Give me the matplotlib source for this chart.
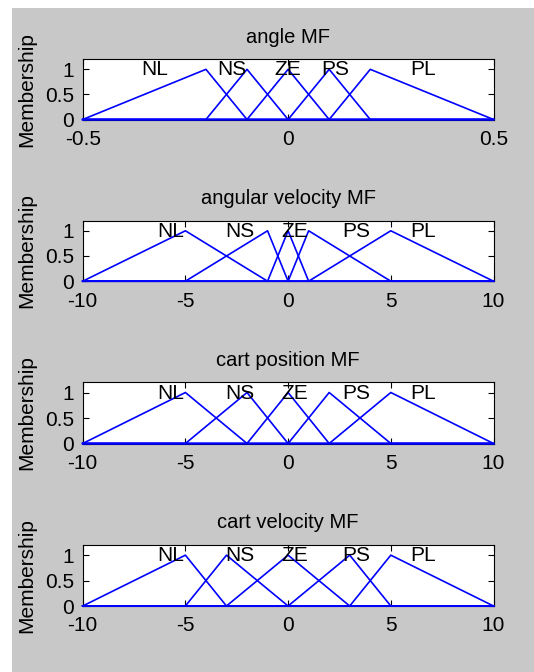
import numpy as np
from matplotlib import pyplot as plt
from matplotlib.patches import Rectangle

plt.rcParams['font.family'] = ['Liberation Sans', 'DejaVu Sans']
plt.rcParams['axes.unicode_minus'] = False

mf_names = ['NL', 'NS', 'ZE', 'PS', 'PL']

# triangular MF params (a, b, c) per variable
angle_range  = (-0.5, 0.5)
angle_mfs    = [(-0.5, -0.2, -0.1), (-0.2, -0.1, 0.0), (-0.1, 0.0, 0.1), (0.0, 0.1, 0.2), (0.1, 0.2, 0.5)]
angle_ticks  = [-0.5, 0, 0.5]
angle_labx   = [-0.325, -0.138, 0.0, 0.115, 0.328]

angvel_range = (-10, 10)
angvel_mfs   = [(-10, -5, -1), (-5, -1, 0), (-1, 0, 1), (0, 1, 5), (1, 5, 10)]
angvel_ticks = [-10, -5, 0, 5, 10]
angvel_labx  = [-5.7, -2.35, 0.3, 3.3, 6.55]

cartpos_range = (-10, 10)
cartpos_mfs   = [(-10, -5, -2), (-5, -2, 0), (-2, 0, 2), (0, 2, 5), (2, 5, 10)]
cartpos_ticks = [-10, -5, 0, 5, 10]
cartpos_labx  = [-5.7, -2.35, 0.3, 3.3, 6.55]

cartvel_range = (-10, 10)
cartvel_mfs   = [(-10, -5, -3), (-5, -3, 0), (-3, 0, 3), (0, 3, 5), (3, 5, 10)]
cartvel_ticks = [-10, -5, 0, 5, 10]
cartvel_labx  = [-5.7, -2.35, 0.3, 3.3, 6.55]

titles = ['angle MF', 'angular velocity MF', 'cart position MF', 'cart velocity MF']
panels = [
	(angle_range,   angle_mfs,   angle_ticks,   angle_labx),
	(angvel_range,  angvel_mfs,  angvel_ticks,  angvel_labx),
	(cartpos_range, cartpos_mfs, cartpos_ticks, cartpos_labx),
	(cartvel_range, cartvel_mfs, cartvel_ticks, cartvel_labx),
]

W, H = 534, 672
fig = plt.figure(figsize=(W/100, H/100), dpi=100, facecolor='white')
fig.patches.append(Rectangle((12/W, 0), 1, (H-8)/H, transform=fig.transFigure,
                             facecolor='#c8c8c8', edgecolor='none', zorder=-10))

# axes boxes in pixels (top, bottom)
boxes = [(59.3, 119.5), (220.7, 281.2), (382.3, 443.5), (545, 606)]
left, right = 82.7, 493.5

def fmt(v):
	return ('%g' % v)

for (top, bot), title, (rng, mfs, ticks, labx) in zip(boxes, titles, panels):
	ax = fig.add_axes([left/W, (H-bot)/H, (right-left)/W, (bot-top)/H])
	lo, hi = rng
	for (a, b, c) in mfs:
		xs = [lo, a, b, c, hi]
		ys = [0, 0, 1, 0, 0]
		ax.plot(xs, ys, color='#0000ff', lw=1.2, clip_on=False, zorder=3)
	for name, x in zip(mf_names, labx):
		ax.text(x, 0.88, name, ha='center', va='baseline', fontsize=15, zorder=4)

	ax.set_xlim(lo, hi)
	ax.set_ylim(0, 1.2)
	ax.set_xticks(ticks)
	ax.set_xticklabels([fmt(t) for t in ticks])
	ax.set_yticks([0, 0.5, 1])
	ax.set_yticklabels(['0', '0.5', '1'])
	ax.tick_params(direction='in', top=True, right=True, length=4.5, width=0.8,
	               labelsize=15, colors='black')
	ax.tick_params(axis='x', pad=7.5)
	ax.tick_params(axis='y', pad=6)
	for s in ax.spines.values():
		s.set_linewidth(0.8)
	ax.set_title(title, fontsize=14.5, pad=12)
	ax.set_ylabel('Membership', fontsize=15)
	ax.yaxis.set_label_coords(-0.112, 0.5)

fig.savefig('out.png', dpi=100, facecolor=fig.get_facecolor())
